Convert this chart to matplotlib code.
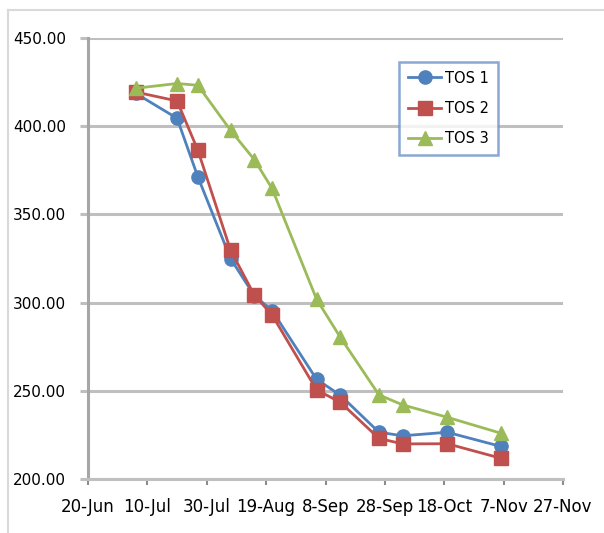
import matplotlib
matplotlib.use('Agg')
import matplotlib.pyplot as plt
from matplotlib.lines import Line2D
import pandas as pd

# data
dates = ['2011-07-06', '2011-07-20', '2011-07-27', '2011-08-07', '2011-08-15', '2011-08-21',
         '2011-09-05', '2011-09-13', '2011-09-26', '2011-10-04', '2011-10-19', '2011-11-06']
tos1 = [418.7, 404.5, 371.3, 325.0, 304.0, 295.5, 256.5, 247.5, 226.5, 224.5, 226.5, 218.5]
tos2 = [419.4, 414.3, 386.4, 329.8, 304.3, 293.0, 250.5, 243.5, 223.0, 219.9, 220.0, 211.8]
tos3 = [421.5, 424.2, 423.2, 397.7, 381.1, 364.7, 301.9, 280.3, 247.7, 242.0, 235.0, 226.0]
series_names = ['TOS 1', 'TOS 2', 'TOS 3']
tick_dates = ['2011-06-20', '2011-07-10', '2011-07-30', '2011-08-19', '2011-09-08',
              '2011-09-28', '2011-10-18', '2011-11-07', '2011-11-27']
tick_labels = ['20-Jun', '10-Jul', '30-Jul', '19-Aug', '8-Sep', '28-Sep', '18-Oct', '7-Nov', '27-Nov']
y_ticks = [200, 250, 300, 350, 400, 450]

plt.rcParams['font.family'] = ['DejaVu Sans']

x = pd.to_datetime(dates)
xt = pd.to_datetime(tick_dates)

fig = plt.figure(figsize=(6.04, 5.33), dpi=100)
ax = fig.add_axes([88 / 604, 1 - 479 / 533, 475 / 604, 441 / 533])

ax.plot(x, tos1, color='#4f81bd', lw=2, marker='o', ms=9.5, label=series_names[0], clip_on=False)
ax.plot(x, tos2, color='#c0504d', lw=2, marker='s', ms=10, label=series_names[1], clip_on=False)
ax.plot(x, tos3, color='#9bbb59', lw=2, marker='^', ms=10, label=series_names[2], clip_on=False)

ax.set_xlim(xt[0], xt[-1])
ax.set_ylim(200, 450)
ax.set_xticks(xt)
ax.set_xticklabels(tick_labels, fontsize=12)
ax.set_yticks(y_ticks)
ax.set_yticklabels([f'{v:.2f}' for v in y_ticks], fontsize=11)

ax.grid(axis='y', color='#bfbfbf', lw=2.2)
ax.set_axisbelow(True)
for s in ['top', 'right']:
    ax.spines[s].set_visible(False)
ax.spines['left'].set_color('#a6a6a6')
ax.spines['left'].set_linewidth(2.2)
ax.spines['bottom'].set_color('#bfbfbf')
ax.spines['bottom'].set_linewidth(2.2)
ax.tick_params(axis='y', length=6, width=2.2, color='#bfbfbf', pad=10)
ax.tick_params(axis='x', length=4.5, width=1.5, color='#8c8c8c', pad=9)

leg = ax.legend(loc='upper left', bbox_to_anchor=(0.655, 0.946), fontsize=10.5,
                frameon=True, fancybox=False, handlelength=2.3, handletextpad=0.25,
                labelspacing=1.05, borderpad=0.6, borderaxespad=0)
leg.get_frame().set_edgecolor('#6d93c8')
leg.get_frame().set_linewidth(1.8)

# outer chart border (cropped on the right and bottom)
fig.add_artist(Line2D([8 / 604, 1], [1 - 10 / 533] * 2, color='#d9d9d9', lw=1.5))
fig.add_artist(Line2D([8 / 604] * 2, [0, 1 - 10 / 533], color='#d9d9d9', lw=1.5))

fig.savefig('out.png', dpi=100)
